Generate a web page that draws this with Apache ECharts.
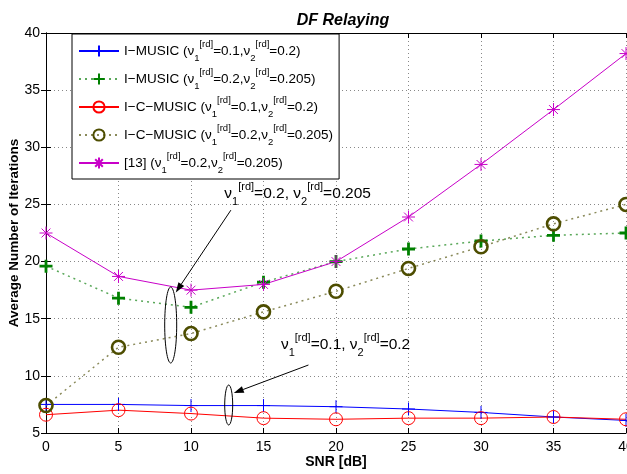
<!DOCTYPE html>
<html><head><meta charset="utf-8">
<script src="https://cdn.jsdelivr.net/npm/echarts@6/dist/echarts.min.js"></script>
<style>html,body{margin:0;padding:0;background:#fff}#c{width:627px;height:474px}</style>
</head><body><div id="c"></div>
<script>
const snr = [0, 5, 10, 15, 20, 25, 30, 35, 40];
const iMusicA = [7.5, 7.5, 7.4, 7.4, 7.3, 7.1, 6.8, 6.4, 6.1];
const iMusicB = [19.6, 16.8, 16.0, 18.2, 20.0, 21.1, 21.8, 22.3, 22.5];
const icMusicA = [6.6, 7.0, 6.7, 6.3, 6.2, 6.3, 6.3, 6.4, 6.2];
const icMusicB = [7.4, 12.5, 13.7, 15.6, 17.4, 19.4, 21.3, 23.3, 25.0];
const ref13 = [22.5, 18.7, 17.5, 18.0, 20.0, 23.9, 28.5, 33.3, 38.2];
const yTicks = [5, 10, 15, 20, 25, 30, 35, 40];

const FONT = 'Liberation Sans';
const PLUS = 'path://M5,0L5,10M0,5L10,5';
const STAR = 'path://M5,0L5,10M0,5L10,5M1.6,1.6L8.4,8.4M8.4,1.6L1.6,8.4';
const RING = 'path://M10,5A5,5 0 1,1 0,5A5,5 0 1,1 10,5Z';

const legendText = {
  'A': '{t|I−MUSIC (ν}{sb|1}{sp|[rd]}{t|=0.1,ν}{sb|2}{sp|[rd]}{t|=0.2)}',
  'B': '{t|I−MUSIC (ν}{sb|1}{sp|[rd]}{t|=0.2,ν}{sb|2}{sp|[rd]}{t|=0.205)}',
  'C': '{t|I−C−MUSIC (ν}{sb|1}{sp|[rd]}{t|=0.1,ν}{sb|2}{sp|[rd]}{t|=0.2)}',
  'D': '{t|I−C−MUSIC (ν}{sb|1}{sp|[rd]}{t|=0.2,ν}{sb|2}{sp|[rd]}{t|=0.205)}',
  'E': '{t|[13] (ν}{sb|1}{sp|[rd]}{t|=0.2,ν}{sb|2}{sp|[rd]}{t|=0.205)}'
};
const rich = {
  t: {fontSize: 13.5, fontFamily: FONT, color: '#000', lineHeight: 24, verticalAlign: 'middle'},
  sb: {fontSize: 9.5, fontFamily: FONT, color: '#000', lineHeight: 9, verticalAlign: 'bottom'},
  sp: {fontSize: 9.5, fontFamily: FONT, color: '#000', lineHeight: 9, verticalAlign: 'top'}
};

function mk(name, data, color, lineColor, symbol, size, bw, lineType, lw) {
  return {
    name, type: 'line', data: snr.map((x, i) => [x, data[i]]),
    symbol, symbolSize: size, showAllSymbol: true,
    lineStyle: {color: lineColor, width: lw, type: lineType},
    itemStyle: {color: 'none', borderColor: color, borderWidth: bw},
    emphasis: {disabled: true}, animation: false, z: 3
  };
}

const chart = echarts.init(document.getElementById('c'), null, {renderer: 'canvas'});
const axisCommon = {
  axisLine: {show: true, lineStyle: {color: '#000', width: 1}},
  axisTick: {show: true, inside: true, length: 5, lineStyle: {color: '#000'}},
};
chart.setOption({
  animation: false,
  backgroundColor: '#fff',
  title: {text: 'DF Relaying', left: 338, textAlign: 'center', top: 8,
    textStyle: {fontFamily: FONT, fontSize: 16, fontWeight: 'bold', fontStyle: 'italic', color: '#000'}},
  grid: {left: 46, right: 1, top: 33, bottom: 41, containLabel: false, outerBoundsMode: 'none'},
  legend: {
    orient: 'vertical', left: 72, top: 34, width: 266,
    padding: [5, 6, 4, 6], itemGap: 4, itemWidth: 40, itemHeight: 14,
    borderColor: '#000', borderWidth: 1, backgroundColor: '#fff',
    formatter: n => legendText[n],
    textStyle: {rich}, selectedMode: false
  },
  xAxis: [
    Object.assign({type: 'value', min: 0, max: 40, interval: 5, name: 'SNR [dB]', nameLocation: 'middle', nameGap: 22,
      nameMoveOverlap: false,
      nameTextStyle: {fontFamily: FONT, fontSize: 14, fontWeight: 'bold', color: '#000'},
      axisLabel: {fontFamily: FONT, fontSize: 14, color: '#000', margin: 7},
      splitLine: {show: true, lineStyle: {color: '#888', type: [1, 3], width: 1}}}, axisCommon),
    Object.assign({type: 'value', min: 0, max: 40, interval: 5, position: 'top', axisLabel: {show: false}, splitLine: {show: false}}, axisCommon)
  ],
  yAxis: [
    Object.assign({type: 'value', min: yTicks[0], max: yTicks[yTicks.length - 1], interval: 5,
      name: 'Average Number of Iterations', nameLocation: 'middle', nameGap: 25,
      nameMoveOverlap: false,
      nameTextStyle: {fontFamily: FONT, fontSize: 13.5, fontWeight: 'bold', color: '#000'},
      axisLabel: {fontFamily: FONT, fontSize: 14, color: '#000', margin: 6},
      splitLine: {show: true, lineStyle: {color: '#888', type: [1, 3], width: 1}}}, axisCommon),
    Object.assign({type: 'value', min: yTicks[0], max: yTicks[yTicks.length - 1], interval: 5, position: 'right',
      axisLabel: {show: false}, splitLine: {show: false}}, axisCommon)
  ],
  series: [
    mk('A', iMusicA, '#0000ff', '#0000ff', PLUS, 13, 1, 'solid', 1),
    mk('B', iMusicB, '#008000', '#5aa85a', PLUS, 13, 2.8, [2, 4], 1.5),
    mk('C', icMusicA, '#ff0000', '#ff0000', RING, 13, 1, 'solid', 1),
    mk('D', icMusicB, '#4d4d00', '#8a8a5a', RING, 13, 2.6, [2, 4], 1.5),
    mk('E', ref13, '#c800c8', '#c800c8', STAR, 13, 1, 'solid', 1)
  ]
});

// annotations in data coordinates
function px(p) { return chart.convertToPixel({gridIndex: 0}, p); }
function arrow(a, b) {
  const A = px(a), B = px(b);
  const dx = B[0] - A[0], dy = B[1] - A[1], L = Math.hypot(dx, dy), ux = dx / L, uy = dy / L;
  const h = 10, w = 3.5;
  const bx = B[0] - ux * h, by = B[1] - uy * h;
  return [
    {type: 'line', shape: {x1: A[0], y1: A[1], x2: bx, y2: by}, style: {stroke: '#000', lineWidth: 1}},
    {type: 'polygon', shape: {points: [[B[0], B[1]], [bx - uy * w, by + ux * w], [bx + uy * w, by - ux * w]]}, style: {fill: '#000'}}
  ];
}
function ell(c, rx, ry) {
  const C = px(c);
  return {type: 'ellipse', shape: {cx: C[0], cy: C[1], rx, ry}, style: {fill: 'none', stroke: '#000', lineWidth: 1}};
}
const annRich = {
  t: {fontSize: 15.5, fontFamily: FONT, color: '#000', lineHeight: 26, verticalAlign: 'middle'},
  sb: {fontSize: 11, fontFamily: FONT, color: '#000', lineHeight: 10, verticalAlign: 'bottom'},
  sp: {fontSize: 11, fontFamily: FONT, color: '#000', lineHeight: 10, verticalAlign: 'top'}
};
function txt(p, s) {
  const P = px(p);
  return {type: 'text', x: P[0], y: P[1], style: {text: s, rich: annRich, verticalAlign: 'middle', align: 'left'}, z: 10};
}
chart.setOption({graphic: [
  ...arrow([12.75, 24.5], [8.95, 17.3]),
  ell([8.6, 14.45], 6, 38),
  txt([12.3, 25.9], '{t|ν}{sb|1}{sp|[rd]}{t|=0.2, ν}{sb|2}{sp|[rd]}{t|=0.205}'),
  ...arrow([18.1, 10.95], [12.95, 8.5]),
  ell([12.6, 7.45], 4, 20),
  txt([16.2, 12.7], '{t|ν}{sb|1}{sp|[rd]}{t|=0.1, ν}{sb|2}{sp|[rd]}{t|=0.2}')
].map(g => Object.assign({z: 10}, g))});
</script></body></html>
